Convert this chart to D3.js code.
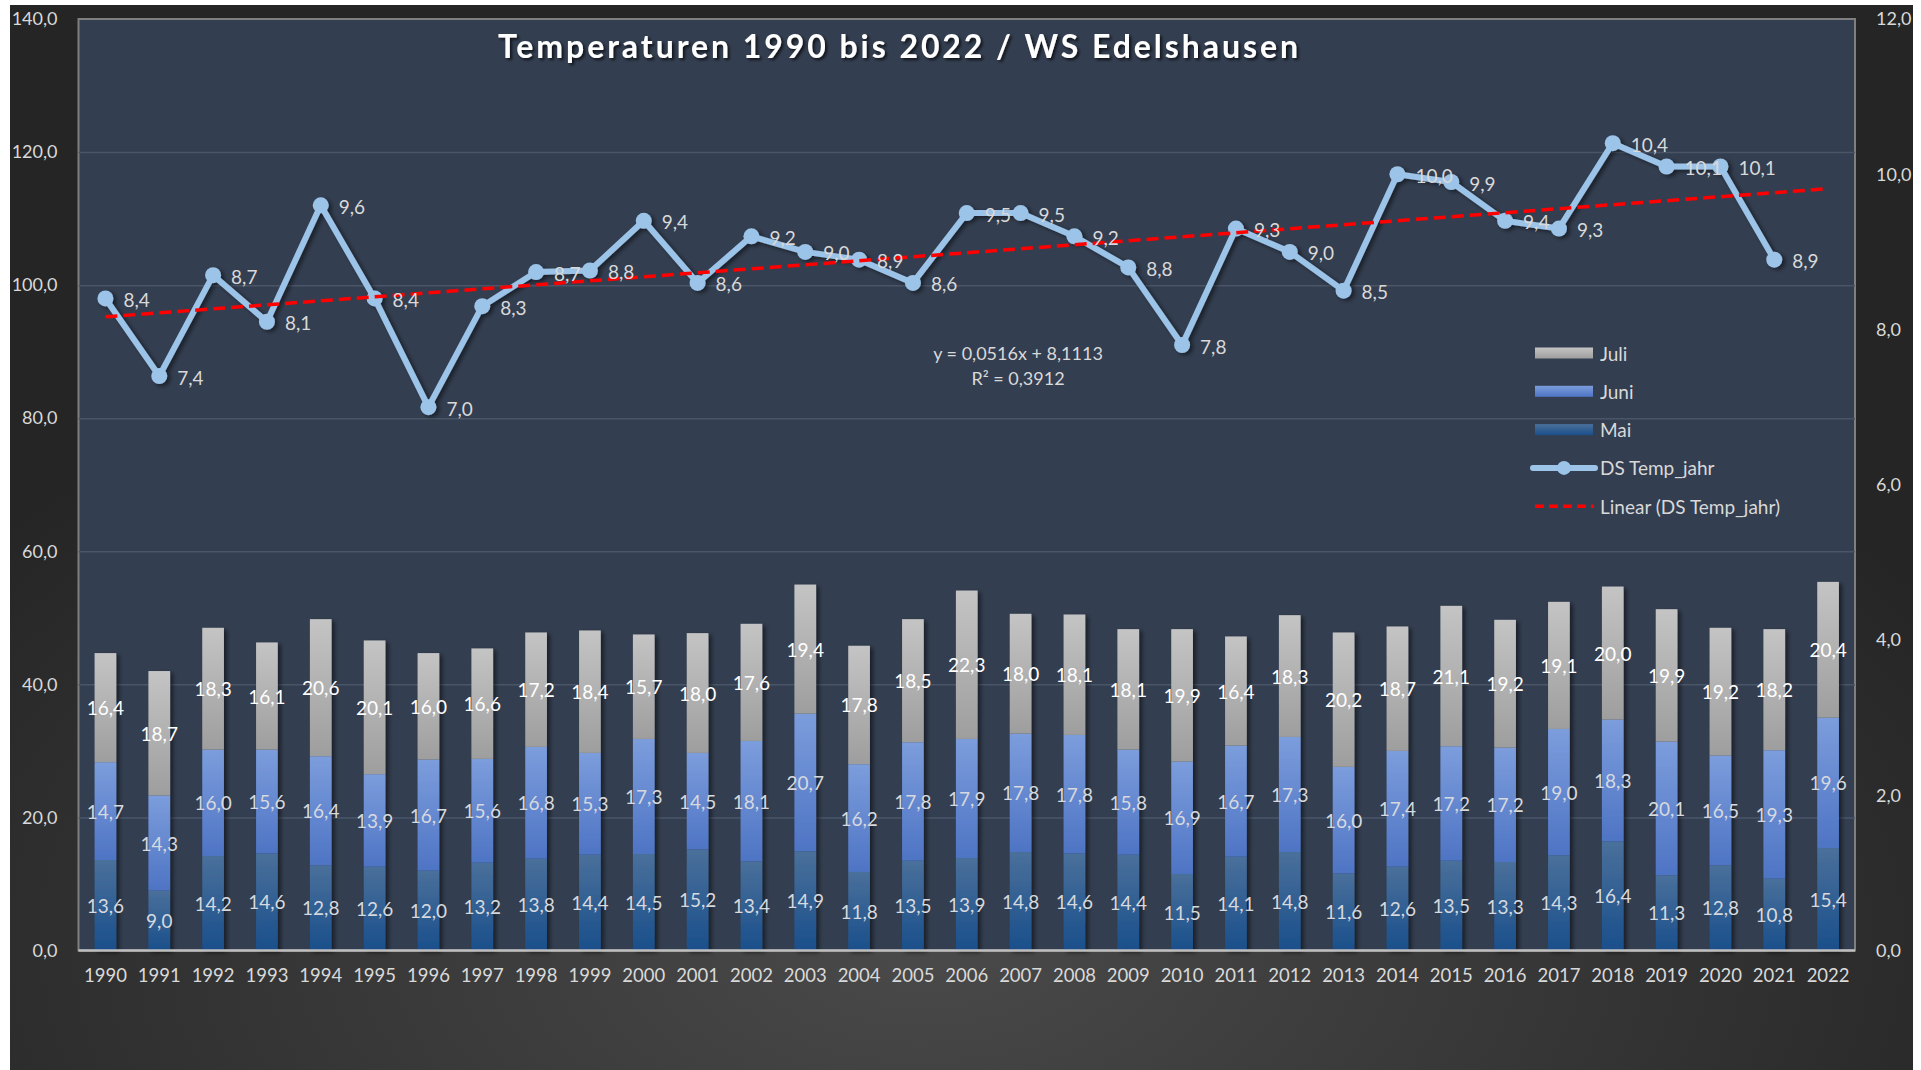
<!DOCTYPE html>
<html>
<head>
<meta charset="utf-8">
<script src="https://cdn.jsdelivr.net/npm/d3@7/dist/d3.min.js"></script>
<style>
html,body{margin:0;padding:0;background:#fff;}
svg{display:block;}
text{font-family:Lato,"Open Sans",sans-serif;}
</style>
</head>
<body>
<svg id="chart" width="1921" height="1070"></svg>
<script>
const years = d3.range(1990, 2023).map(String);
const mai  = [13.6,9.0,14.2,14.6,12.8,12.6,12.0,13.2,13.8,14.4,14.5,15.2,13.4,14.9,11.8,13.5,13.9,14.8,14.6,14.4,11.5,14.1,14.8,11.6,12.6,13.5,13.3,14.3,16.4,11.3,12.8,10.8,15.4];
const juni = [14.7,14.3,16.0,15.6,16.4,13.9,16.7,15.6,16.8,15.3,17.3,14.5,18.1,20.7,16.2,17.8,17.9,17.8,17.8,15.8,16.9,16.7,17.3,16.0,17.4,17.2,17.2,19.0,18.3,20.1,16.5,19.3,19.6];
const juli = [16.4,18.7,18.3,16.1,20.6,20.1,16.0,16.6,17.2,18.4,15.7,18.0,17.6,19.4,17.8,18.5,22.3,18.0,18.1,18.1,19.9,16.4,18.3,20.2,18.7,21.1,19.2,19.1,20.0,19.9,19.2,18.2,20.4];
const dsTempJahr = [8.4,7.4,8.7,8.1,9.6,8.4,7.0,8.3,8.74,8.76,9.4,8.6,9.2,9.0,8.9,8.6,9.5,9.5,9.2,8.8,7.8,9.3,9.0,8.5,10.0,9.9,9.4,9.3,10.4,10.1,10.1,8.9,null];
const trendSlope = 0.0516, trendIntercept = 8.1113;
const leftTicks = [0,20,40,60,80,100,120,140];
const rightTicks = [0,2,4,6,8,10,12];
const seriesNames = ["Mai","Juni","Juli"];

const fmt = v => v.toFixed(1).replace(".", ",");
const svg = d3.select("#chart");
const defs = svg.append("defs");

const rg = defs.append("radialGradient").attr("id","bgGrad").attr("cx","48%").attr("cy","88%").attr("r","62%");
rg.append("stop").attr("offset","0%").attr("stop-color","#4a4a4a");
rg.append("stop").attr("offset","100%").attr("stop-color","#252525");

function vgrad(id, top, bottom){
  const g = defs.append("linearGradient").attr("id",id).attr("x1",0).attr("y1",0).attr("x2",0).attr("y2",1);
  g.append("stop").attr("offset","0%").attr("stop-color",top);
  g.append("stop").attr("offset","100%").attr("stop-color",bottom);
}
vgrad("gMai","#4a709b","#1a4f8b");
vgrad("gJuni","#7c9ddc","#4e74c4");
vgrad("gJuli","#c4c4c4","#9e9e9e");
const fills = {Mai:"url(#gMai)", Juni:"url(#gJuni)", Juli:"url(#gJuli)"};

const sh = defs.append("filter").attr("id","shadow").attr("x","-30%").attr("y","-30%").attr("width","160%").attr("height","160%");
sh.append("feDropShadow").attr("dx",3).attr("dy",2).attr("stdDeviation",2).attr("flood-color","#000").attr("flood-opacity",0.5);
const tsh = defs.append("filter").attr("id","tshadow").attr("x","-5%").attr("y","-30%").attr("width","110%").attr("height","160%");
tsh.append("feDropShadow").attr("dx",2).attr("dy",2).attr("stdDeviation",1.5).attr("flood-color","#000").attr("flood-opacity",0.7);

svg.append("rect").attr("x",10).attr("y",5).attr("width",1903).attr("height",1065).attr("fill","url(#bgGrad)");

const plot = {l:78.5, r:1855, t:19, b:950.5};
svg.append("rect").attr("x",plot.l).attr("y",plot.t).attr("width",plot.r-plot.l).attr("height",plot.b-plot.t)
  .attr("fill","#333e50").attr("stroke","#7f7f7f").attr("stroke-width",2);

const x = d3.scaleBand().domain(years).range([plot.l, plot.r]).paddingInner(0.597).paddingOuter(0.2985);
const yL = d3.scaleLinear().domain([0,140]).range([plot.b, plot.t]);
const yR = d3.scaleLinear().domain([0,12]).range([plot.b, plot.t]);

svg.append("g").attr("transform",`translate(${plot.l},0)`)
  .call(d3.axisLeft(yL).tickValues(leftTicks.slice(1,-1)).tickSize(-(plot.r-plot.l)).tickFormat(""))
  .call(g=>g.select(".domain").remove())
  .call(g=>g.selectAll("line").attr("stroke","#4a5668").attr("stroke-width",1.5));

svg.append("g").attr("transform",`translate(${plot.l-18},0)`)
  .call(d3.axisLeft(yL).tickValues(leftTicks).tickSize(0).tickFormat(fmt))
  .call(g=>g.select(".domain").remove())
  .call(g=>g.selectAll("text").attr("fill","#d9d9d9").style("font-size","18px").style("font-family","Lato"));
svg.append("g").attr("transform",`translate(${plot.r+18},0)`)
  .call(d3.axisRight(yR).tickValues(rightTicks).tickSize(0).tickFormat(fmt))
  .call(g=>g.select(".domain").remove())
  .call(g=>g.selectAll("text").attr("fill","#d9d9d9").style("font-size","18px").style("font-family","Lato"));
svg.append("g").attr("transform",`translate(0,${plot.b+10})`)
  .call(d3.axisBottom(x).tickSize(0).tickPadding(8))
  .call(g=>g.select(".domain").remove())
  .call(g=>g.selectAll("text").attr("fill","#d9d9d9").style("font-size","18.5px").style("font-family","Lato"));

const table = years.map((y,i)=>({year:y, Mai:mai[i], Juni:juni[i], Juli:juli[i]}));
const stacked = d3.stack().keys(seriesNames)(table);
const barG = svg.append("g").attr("filter","url(#shadow)");
stacked.forEach(layer=>{
  barG.append("g").selectAll("rect").data(layer).join("rect")
    .attr("x",d=>x(d.data.year)).attr("width",x.bandwidth())
    .attr("y",d=>yL(d[1])).attr("height",d=>yL(d[0])-yL(d[1]))
    .attr("fill",fills[layer.key]);
});
svg.append("line").attr("x1",plot.l).attr("x2",plot.r).attr("y1",plot.b).attr("y2",plot.b)
  .attr("stroke","#bfbfbf").attr("stroke-width",2.5);

stacked.forEach(layer=>{
  svg.append("g").selectAll("text").data(layer).join("text")
    .attr("x",d=>x(d.data.year)+x.bandwidth()/2)
    .attr("y",d=>yL((d[0]+d[1])/2))
    .attr("text-anchor","middle").attr("dominant-baseline","central")
    .attr("fill", layer.key==="Juli" ? "#ffffff" : "#d6d9de")
    .style("font-size","19px")
    .text(d=>fmt(d.data[layer.key]));
});

const cx = y => x(y)+x.bandwidth()/2;

// line series
const pts = years.map((y,i)=>({year:y, v:dsTempJahr[i]})).filter(d=>d.v!=null);
const lineG = svg.append("g").attr("filter","url(#shadow)");
lineG.append("path").datum(pts)
  .attr("d",d3.line().x(d=>cx(d.year)).y(d=>yR(d.v)))
  .attr("fill","none").attr("stroke","#9cc3e8").attr("stroke-width",6).attr("stroke-linejoin","round");
lineG.selectAll("circle").data(pts).join("circle")
  .attr("cx",d=>cx(d.year)).attr("cy",d=>yR(d.v)).attr("r",8).attr("fill","#9cc3e8");

// trend line (drawn on top of the series line)
const trendPts = [[years[0],1],[years[years.length-1],years.length]].map(([yr,n])=>[cx(yr), yR(trendSlope*n+trendIntercept)]);
svg.append("path").attr("d",d3.line()(trendPts)).attr("stroke","#ff0000").attr("stroke-width",3.5)
  .attr("stroke-dasharray","12,6").attr("fill","none");

svg.append("g").selectAll("text").data(pts).join("text")
  .attr("x",d=>cx(d.year)+18).attr("y",d=>yR(d.v)+1)
  .attr("dominant-baseline","central").attr("fill","#d9d9d9").style("font-size","19px")
  .text(d=>fmt(d.v));

svg.append("text").attr("x",1018).attr("y",353).attr("text-anchor","middle").attr("dominant-baseline","central")
  .attr("fill","#d9d9d9").style("font-size","18px").text("y = 0,0516x + 8,1113");
svg.append("text").attr("x",1018).attr("y",378).attr("text-anchor","middle").attr("dominant-baseline","central")
  .attr("fill","#d9d9d9").style("font-size","18px").text("R² = 0,3912");

svg.append("text").attr("x",898).attr("y",58).attr("text-anchor","middle")
  .attr("fill","#ffffff").style("font-size","32px").style("font-weight","bold")
  .attr("textLength",800).attr("lengthAdjust","spacing").attr("filter","url(#tshadow)")
  .text("Temperaturen 1990 bis 2022 / WS Edelshausen");

const legendItems = [
  {name:"Juli", type:"bar", fill:fills.Juli},
  {name:"Juni", type:"bar", fill:fills.Juni},
  {name:"Mai", type:"bar", fill:fills.Mai},
  {name:"DS Temp_jahr", type:"line"},
  {name:"Linear (DS Temp_jahr)", type:"trend"}
];
const lg = svg.append("g");
legendItems.forEach((it,i)=>{
  const yy = 353 + i*38.3;
  if(it.type==="bar"){
    lg.append("rect").attr("x",1535).attr("y",yy-5.5).attr("width",58).attr("height",11).attr("fill",it.fill);
  } else if(it.type==="line"){
    lg.append("line").attr("x1",1533).attr("x2",1595).attr("y1",yy).attr("y2",yy).attr("stroke","#9cc3e8").attr("stroke-width",6).attr("stroke-linecap","round");
    lg.append("circle").attr("cx",1564).attr("cy",yy).attr("r",7).attr("fill","#9cc3e8");
  } else {
    lg.append("line").attr("x1",1535).attr("x2",1594).attr("y1",yy).attr("y2",yy).attr("stroke","#ff0000").attr("stroke-width",3.5).attr("stroke-dasharray","9,5");
  }
  lg.append("text").attr("x",1600).attr("y",yy).attr("dominant-baseline","central")
    .attr("fill","#d9d9d9").style("font-size","19px").text(it.name);
});
</script>
</body>
</html>
